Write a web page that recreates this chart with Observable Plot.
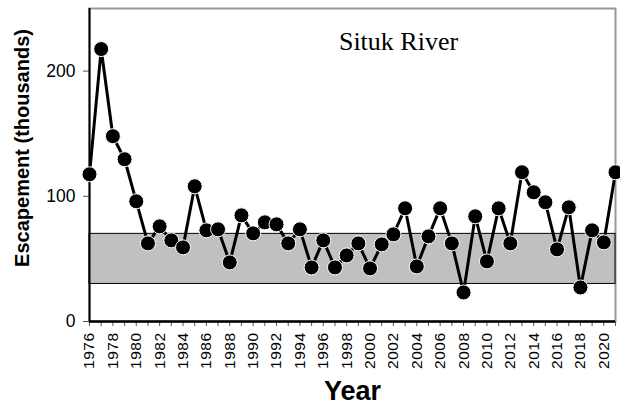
<!DOCTYPE html>
<html>
<head>
<meta charset="utf-8">
<script src="https://cdn.jsdelivr.net/npm/d3@7"></script>
<script src="https://cdn.jsdelivr.net/npm/@observablehq/plot@0.6"></script>
<style>
  html, body { margin: 0; padding: 0; background: #fff; }
  .xlab text { letter-spacing: 0.5px; }
</style>
</head>
<body>
<div id="chart"></div>
<script>
const years = d3.range(1976, 2022);
const escapement = [
  117.6, 217.6, 148, 129.6, 96, 62.4, 76, 64.8, 59.2, 108,
  72.8, 73.6, 47.2, 84.8, 70.4, 79.2, 77.6, 62.4, 73.6, 43.2,
  64.8, 43.2, 52.8, 62.4, 42.4, 61.6, 69.6, 90.4, 44, 68,
  90.4, 62.4, 23.2, 84, 48, 90.4, 62.4, 119.2, 103.2, 95.2,
  57.6, 91.2, 27.2, 72.8, 63.2, 119.2
];
const labelYears = years.filter(y => y % 2 === 0);
const yTicks = [0, 100, 200];
const goalLow = 30;
const goalHigh = 70;
const riverName = "Situk River";
const yTitle = "Escapement (thousands)";
const xTitle = "Year";

const data = years.map((year, i) => ({year, value: escapement[i]}));
const band = [{x1: years[0], x2: years[years.length - 1], y1: goalLow, y2: goalHigh}];

const chart = Plot.plot({
  width: 620,
  height: 408,
  marginLeft: 89,
  marginRight: 5,
  marginTop: 8,
  marginBottom: 87,
  style: {fontFamily: "'Liberation Sans', Arial, sans-serif", color: "#000", background: "#fff"},
  x: {domain: [1976, 2021], axis: null},
  y: {domain: [0, 250], axis: null},
  marks: [
    Plot.frame({stroke: "#999", strokeWidth: 2}),
    Plot.rect(band, {x1: "x1", x2: "x2", y1: "y1", y2: "y2", fill: "#c0c0c0", stroke: "#000", strokeWidth: 1}),
    Plot.axisY({ticks: yTicks, tickSize: 6, tickPadding: 8, fontSize: 17.5, label: null, stroke: "#555"}),
    Plot.axisX({ticks: years, tickSize: 5, tickFormat: () => "", label: null, stroke: "#555"}),
    Plot.axisX({ticks: labelYears, tickSize: 0, tickPadding: 11, tickRotate: -90, fontSize: 15.5, tickFormat: d => String(d), label: null, className: "xlab"}),
    Plot.ruleY([0], {stroke: "#000", strokeWidth: 2.5}),
    Plot.ruleX([1976], {stroke: "#000", strokeWidth: 2}),
    Plot.line(data, {x: "year", y: "value", stroke: "#000", strokeWidth: 3}),
    Plot.dot(data, {x: "year", y: "value", r: 7.5, fill: "#000", stroke: "#fff", strokeWidth: 1}),
    Plot.text([riverName], {frameAnchor: "top", textAnchor: "middle", lineAnchor: "middle", dx: 46, dy: 33, fontSize: 26, fontFamily: "'Liberation Serif', 'Times New Roman', serif", fill: "#000"}),
    Plot.text([yTitle], {frameAnchor: "left", textAnchor: "middle", lineAnchor: "middle", dx: -67, dy: -17, rotate: -90, fontSize: 20, fontWeight: "bold", fill: "#000"}),
    Plot.text([xTitle], {frameAnchor: "bottom", textAnchor: "middle", lineAnchor: "middle", dy: 70, fontSize: 27, fontWeight: "bold", fill: "#000"})
  ]
});
document.getElementById("chart").appendChild(chart);
</script>
</body>
</html>
